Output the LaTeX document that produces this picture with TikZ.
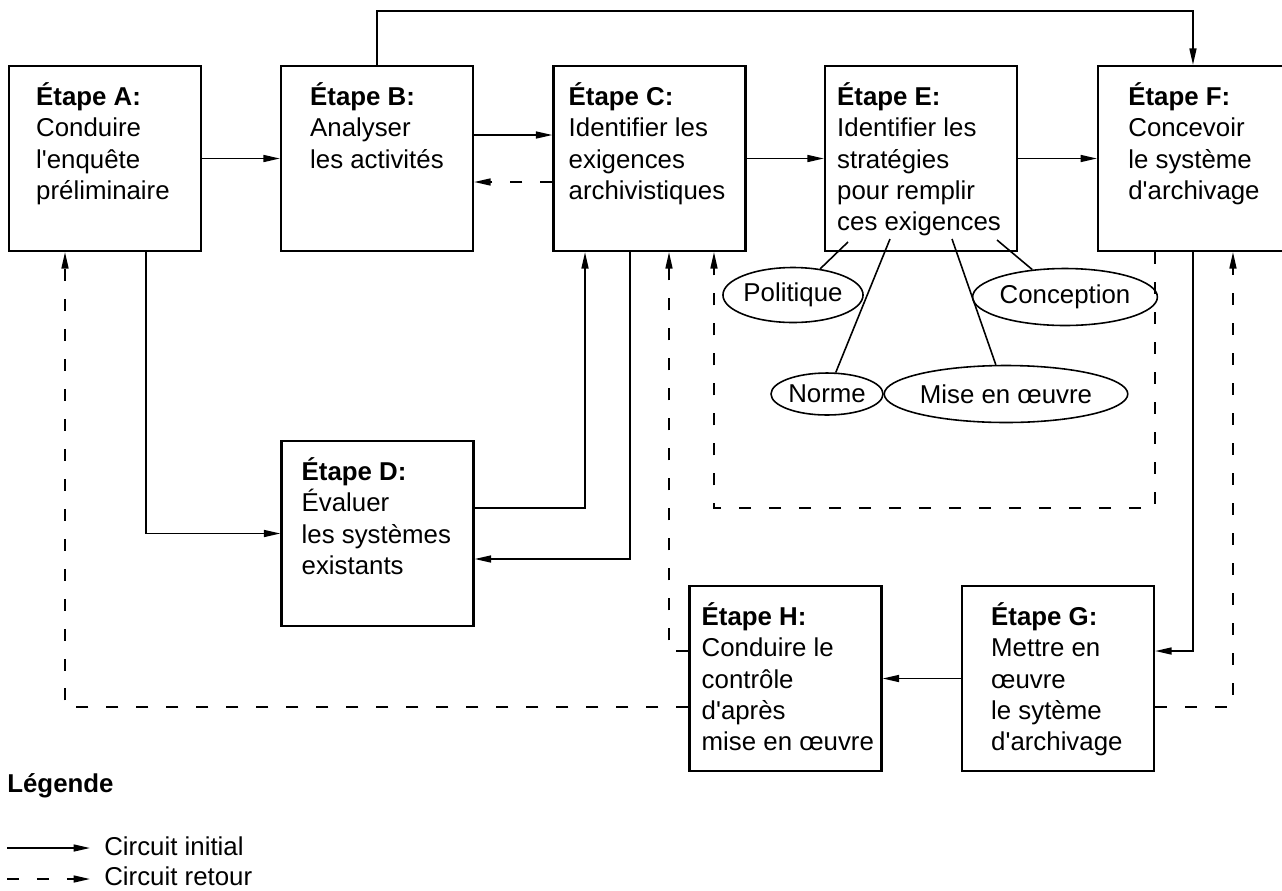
\documentclass[tikz,border=0pt]{standalone}
\usepackage{fontspec}
\setmainfont{Liberation Sans}
\usetikzlibrary{arrows.meta,shapes.geometric}

\newcommand{\apos}{\textquotesingle}

\begin{document}
\begin{tikzpicture}[x=0.02cm,y=-0.02cm]
   \tikzstyle{every node}=[font=\fontsize{14.7}{17.9}\selectfont]
   \tikzstyle{etape}=[draw, line width=1.3pt, minimum width=3.84cm, minimum height=3.7cm, inner sep=0pt]
   \tikzstyle{txt}=[anchor=north west, align=left, inner sep=0pt]
   \tikzstyle{bulle}=[draw, ellipse, line width=0.9pt, inner sep=0pt]
   \tikzstyle{trait}=[line width=0.9pt]
   \tikzstyle{flow}=[trait, -{Triangle[length=3.3mm,width=1.4mm]}]
   \tikzstyle{retour}=[flow, dash pattern=on 0.24cm off 0.36cm]

   \useasboundingbox (0,0) rectangle (1282,890);
   \clip (0,0) rectangle (1282,890);

\node[etape] (A) at (105,158.5) {};
\node[etape] (B) at (377,158.5) {};
\node[etape] (C) at (649.5,158.5) {};
\node[etape] (E) at (921,158.5) {};
\node[etape, minimum width=4.6cm, anchor=west] (F) at (1097,158.5) {};
\node[etape] (D) at (377.5,533.5) {};
\node[etape] (H) at (785.5,678.5) {};
\node[etape] (G) at (1058,678.5) {};

\node[txt] (Atxt) at ([xshift=0.56cm,yshift=-0.34cm]A.north west) {\textbf{Étape A:}\\Conduire\\l\apos enquête\\préliminaire};
\node[txt] (Btxt) at ([xshift=0.6cm,yshift=-0.34cm]B.north west) {\textbf{Étape B:}\\Analyser\\les activités};
\node[txt] (Ctxt) at ([xshift=0.32cm,yshift=-0.34cm]C.north west) {\textbf{Étape C:}\\Identifier les\\exigences\\archivistiques};
\node[txt] (Etxt) at ([xshift=0.26cm,yshift=-0.34cm]E.north west) {\textbf{Étape E:}\\Identifier les\\stratégies\\pour remplir\\ces exigences};
\node[txt] (Ftxt) at ([xshift=0.62cm,yshift=-0.34cm]F.north west) {\textbf{Étape F:}\\Concevoir\\le système\\d\apos archivage};
\node[txt] (Dtxt) at ([xshift=0.42cm,yshift=-0.34cm]D.north west) {\textbf{Étape D:}\\Évaluer\\les systèmes\\existants};
\node[txt] (Htxt) at ([xshift=0.26cm,yshift=-0.34cm]H.north west) {\textbf{Étape H:}\\Conduire le\\contrôle\\d\apos après\\mise en œuvre};
\node[txt] (Gtxt) at ([xshift=0.6cm,yshift=-0.34cm]G.north west) {\textbf{Étape G:}\\Mettre en\\œuvre\\le sytème\\d\apos archivage};

\node[bulle, minimum width=2.7cm, minimum height=1.1cm] (pol) at (793,295) {Politique};
\node[bulle, minimum width=3.14cm, minimum height=1.14cm] (con) at (1065,297) {Conception};
\node[bulle, minimum width=2.24cm, minimum height=0.84cm] (nor) at (827,394) {Norme};
\node[bulle, minimum width=4.2cm, minimum height=1.14cm] (mise) at (1006,394) {Mise en œuvre};

\coordinate (e1) at (848,242);
\coordinate (e2) at (890,239);
\coordinate (e3) at (952,239);
\coordinate (e4) at (997,240);
\draw[trait] (e1) -- (pol);
\draw[trait] (e2) -- (nor);
\draw[trait] (e3) -- (mise);
\draw[trait] (e4) -- (con);

\draw[flow] (A.east) -- (B.west);
\draw[flow] ([yshift=0.47cm]B.east) -- ([yshift=0.47cm]C.west);
\draw[retour] ([yshift=-0.47cm]C.west) -- ([yshift=-0.47cm]B.east);
\draw[flow] (C.east) -- (E.west);
\draw[flow] (E.east) -- (F.west);
\draw[flow] (B.north) -- ++(0,-54) -| ([xshift=1.92cm]F.north west);
\draw[flow] ([xshift=0.82cm]A.south) |- (D.west);
\draw[flow] ([yshift=0.51cm]D.east) -| ([xshift=-1.29cm]C.south);
\draw[flow] ([xshift=-0.39cm]C.south) |- ([yshift=-0.51cm]D.east);
\draw[flow] ([xshift=1.92cm]F.south west) |- ([yshift=0.55cm]G.east);
\draw[flow] (G.west) -- (H.east);
\draw[retour] ([yshift=0.55cm]H.west) -| ([xshift=0.39cm]C.south);
\draw[retour] ([yshift=-0.57cm]H.west) -| ([xshift=-0.8cm]A.south);
\draw[retour] ([yshift=-0.57cm]G.east) -| ([xshift=2.72cm]F.south west);
\draw[retour] ([xshift=1.16cm]F.south west) -- ++(0,256) -| ([xshift=1.29cm]C.south);

\node[anchor=base west, inner sep=0pt] (leg) at (7,792) {\textbf{Légende}};
\coordinate (l1a) at (7,848);
\coordinate (l1b) at (90,848);
\coordinate (l2a) at (7,879);
\coordinate (l2b) at (90,879);
\draw[flow] (l1a) -- (l1b);
\draw[retour] (l2a) -- (l2b);
\node[anchor=base west, inner sep=0pt] (l1) at (104,855) {Circuit initial};
\node[anchor=base west, inner sep=0pt] (l2) at (104,885.5) {Circuit retour};

\end{tikzpicture}
\end{document}
